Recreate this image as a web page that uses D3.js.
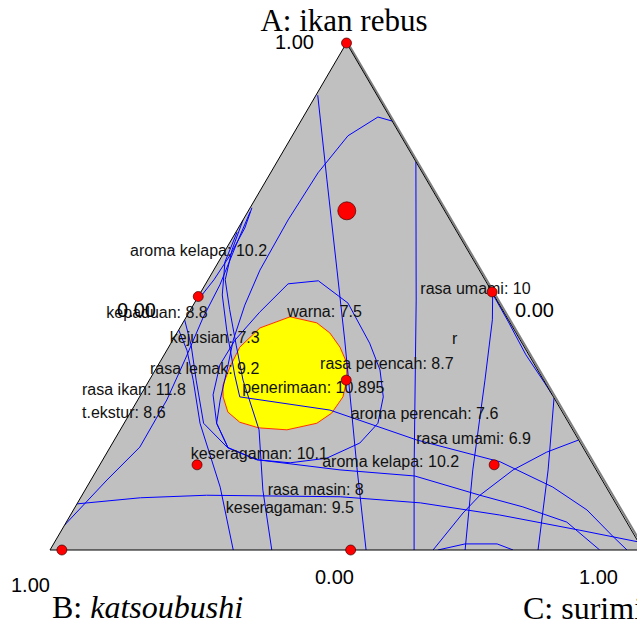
<!DOCTYPE html>
<html><head><meta charset="utf-8">
<script src="https://cdn.jsdelivr.net/npm/d3@7"></script>
<style>body{margin:0;background:#fff}svg{display:block}</style>
</head><body><div id="chart"></div>
<script>
// ---------- DATA (mixture fractions [A, C]; B = 1 - A - C) ----------
const components = ["A: ikan rebus", "B: ", "katsoubushi", "C: surimi"];
const vertexTicks = ["1.00", "0.00", "0.00", "1.00", "0.00", "1.00"];

const designPoints = [[1,0],[0,0.02],[0,0.507],[0.5,0],[0.509,0.491],[0.669,0.166],[0.335,0.332],[0.168,0.164],[0.168,0.665]];
const designRuns   = [1,1,1,1,1,2,1,1,1];

const sweetSpot = [[0.302,0.141],[0.272,0.164],[0.252,0.194],[0.241,0.231],[0.237,0.281],[0.250,0.325],[0.270,0.340],[0.302,0.343],[0.335,0.333],[0.369,0.316],[0.400,0.289],[0.428,0.258],[0.448,0.226],[0.460,0.175],[0.438,0.135],[0.400,0.120],[0.361,0.123],[0.325,0.129]];

const cWarna = [[0.469,0.119],[0.525,0.139],[0.531,0.187],[0.487,0.259],[0.408,0.335],[0.355,0.379],[0.302,0.411],[0.250,0.428],[0.211,0.417],[0.181,0.376],[0.172,0.319],[0.178,0.260],[0.201,0.200],[0.250,0.156],[0.306,0.122],[0.365,0.104],[0.414,0.105],[0.469,0.119]];
const cRasaLemak = [[0.846,0.154],[0.854,0.126],[0.817,0.094],[0.744,0.080],[0.651,0.076],[0.552,0.078],[0.483,0.087],[0.414,0.102],[0.355,0.121],[0.296,0.139],[0.250,0.156],[0.201,0.200]];
const cVert1 = [[0.897,0.003],[0.730,0.102],[0.552,0.208],[0.414,0.290],[0.158,0.439],[0,0.533]];
const cVert2 = [[0.766,0.234],[0.493,0.371],[0.158,0.535],[0,0.614]];
const cKepaduan = [[0.675,0.003],[0.635,0.011],[0.582,0.013],[0.533,0.010],[0.493,0.003]];
const cAromaPerencah = [[0.627,0.002],[0.568,0.011],[0.503,0.039],[0.434,0.081],[0.345,0.139],[0.302,0.169],[0.276,0.334],[0.217,0.510],[0.174,0.672],[0.124,0.786],[0.079,0.866],[0.026,0.937],[0,0.973]];
const cRasaIkan = [[0.049,0],[0.138,0.027],[0.203,0.050],[0.296,0.049],[0.375,0.040],[0.458,0.029],[0.523,0.025],[0.602,0.013],[0.667,0.004]];
const cTekstur = [[0.651,0],[0.592,0.011],[0.533,0.029],[0.474,0.066],[0.404,0.112],[0.335,0.158],[0.237,0.234],[0.118,0.300],[0,0.374]];
const cKeseragaman95 = [[0.434,0],[0.394,0.034],[0.335,0.074],[0.250,0.128],[0.124,0.225],[0,0.309]];
const cAromaKelapa = [[0.454,0],[0.404,0.036],[0.335,0.079],[0.250,0.134],[0.203,0.197],[0.178,0.260],[0.158,0.410],[0.146,0.542],[0.108,0.671],[0.085,0.755],[0.055,0.844],[0,0.927]];
const cUmami10 = [[0.507,0.493],[0.454,0.519],[0.335,0.566],[0.158,0.634],[0,0.700]];
const cUmamiEdge = [[0.507,0.492],[0.450,0.548],[0.385,0.610],[0.329,0.670],[0.306,0.694]];
const cVert3 = [[0.300,0.700],[0.158,0.761],[0,0.823]];
const cArc = [[0,0.646],[0.073,0.660],[0.108,0.671],[0.158,0.702],[0.193,0.741],[0.217,0.783]];
const cHump = [[0,0.654],[0.012,0.694],[0.012,0.748],[0,0.781]];
const cRasaMasin = [[0.091,0],[0.103,0.101],[0.108,0.210],[0.105,0.437],[0.093,0.578],[0.069,0.724],[0.039,0.874],[0.016,0.984]];

const contours = [cWarna,cRasaLemak,cVert1,cVert2,cKepaduan,cAromaPerencah,cRasaIkan,cTekstur,cKeseragaman95,cAromaKelapa,cUmami10,cUmamiEdge,cVert3,cArc,cHump,cRasaMasin];

const labelTexts = ["aroma kelapa: 10.2","kepaduan: 8.8","kejusian: 7.3","rasa lemak: 9.2","rasa ikan: 11.8","t.ekstur: 8.6","warna: 7.5","rasa perencah: 8.7","penerimaan: 10.895","rasa umami: 10","r","aroma perencah: 7.6","rasa umami: 6.9","keseragaman: 10.1","aroma kelapa: 10.2","rasa masin: 8","keseragaman: 9.5"];
const labelAnchors = [[0.580,-0.155],[0.458,-0.134],[0.408,-0.002],[0.347,-0.005],[0.306,-0.099],[0.260,-0.076],[0.460,0.170],[0.357,0.277],[0.310,0.169],[0.505,0.372],[0.406,0.475],[0.258,0.378],[0.209,0.513],[0.179,0.148],[0.164,0.377],[0.108,0.313],[0.073,0.260]];

// ---------- LAYOUT ----------
const W = 637, H = 624;
const x = d3.scaleLinear().domain([0,1]).range([50,643]);
const y = d3.scaleLinear().domain([0,1]).range([550,43]);
const px = d => x(d[1] + d[0]/2), py = d => y(d[0]);

const svg = d3.select("#chart").append("svg").attr("width",W).attr("height",H);
const tri = [[1,0],[0,0],[0,1]];
const triPath = d3.line().x(px).y(py)(tri) + "Z";

svg.append("defs").append("clipPath").attr("id","tri").append("path").attr("d",triPath);
svg.append("path").attr("d",triPath).attr("fill","#C0C0C0").attr("stroke","none");

const g = svg.append("g").attr("clip-path","url(#tri)");
const line = d3.line().x(px).y(py);

g.append("path").datum(sweetSpot).attr("d", d => line(d)+"Z")
  .attr("fill","#FFFF00").attr("stroke","#FF3300").attr("stroke-width",1);

g.selectAll("path.c").data(contours).join("path").attr("class","c")
  .attr("d", line).attr("fill","none").attr("stroke","#0000FF").attr("stroke-width",1);

// triangle border
svg.append("line").attr("x1",px([1,0])+2).attr("y1",py([1,0])+1).attr("x2",px([0,1])+2).attr("y2",py([0,1]))
  .attr("stroke","#808080").attr("stroke-width",2);
svg.append("path").attr("d",triPath).attr("fill","none").attr("stroke","#000").attr("stroke-width",1);

// labels
svg.append("g").selectAll("text").data(labelTexts).join("text")
  .attr("x",(d,i)=>px(labelAnchors[i])).attr("y",(d,i)=>py(labelAnchors[i]))
  .attr("font-family","Liberation Sans, Arial, sans-serif").attr("font-size",16).attr("fill","#111")
  .text(d=>d);

// design points
svg.append("g").selectAll("circle").data(designPoints).join("circle")
  .attr("cx",px).attr("cy",py).attr("r",(d,i)=>designRuns[i]>1?9:5)
  .attr("fill","#FF0000").attr("stroke","#400000").attr("stroke-width",0.7);

// vertex tick labels
const tickPos = [[275,49],[117,317],[515,317],[11,592],[315,584],[579,584]];
svg.append("g").selectAll("text").data(vertexTicks).join("text")
  .attr("x",(d,i)=>tickPos[i][0]).attr("y",(d,i)=>tickPos[i][1])
  .attr("font-family","Liberation Sans, Arial, sans-serif").attr("font-size",20).attr("fill","#000")
  .text(d=>d);

// component titles
const serif = "Liberation Serif, Times New Roman, serif";
svg.append("text").attr("x",344).attr("y",31).attr("text-anchor","middle")
  .attr("font-family",serif).attr("font-size",31).text(components[0]);
const tB = svg.append("text").attr("x",52).attr("y",618).attr("font-family",serif).attr("font-size",32);
tB.append("tspan").text(components[1]);
tB.append("tspan").attr("font-style","italic").text(components[2]);
svg.append("text").attr("x",523).attr("y",619).attr("font-family",serif).attr("font-size",32).text(components[3]);
</script></body></html>
